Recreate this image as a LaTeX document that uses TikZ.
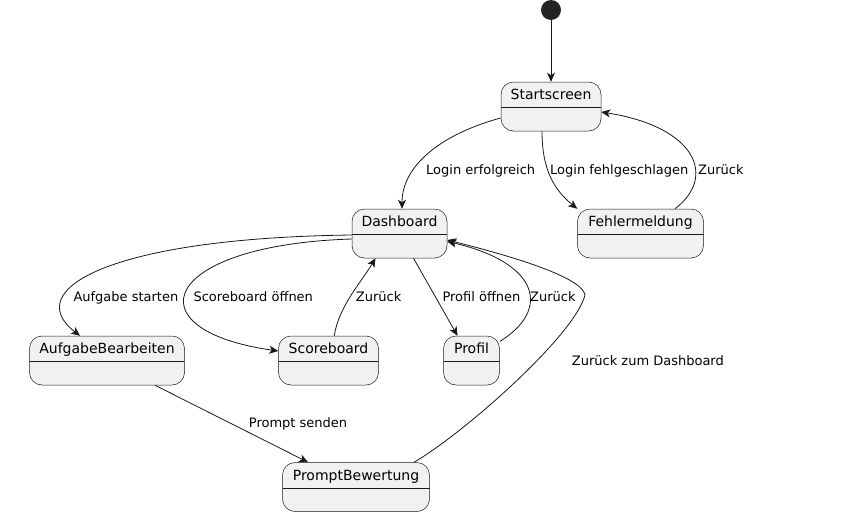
\documentclass[tikz,border=0pt]{standalone}
\usepackage{fontspec}
\setmainfont{DejaVu Sans}
\usetikzlibrary{arrows.meta}
\definecolor{linec}{HTML}{181818}
\definecolor{boxfill}{HTML}{F1F1F1}
\tikzset{
	state/.style={draw=linec, fill=boxfill, line width=0.5pt, rounded corners=12.5pt, inner sep=0pt,
		minimum height=49pt, text height=17.5pt, text depth=31.5pt, font=\fontsize{14}{16}\selectfont,
		path picture={\draw[linec, line width=0.5pt] ([yshift=-25.5pt]path picture bounding box.north west) -- ([yshift=-25.5pt]path picture bounding box.north east);}},
	lbl/.style={anchor=base west, inner sep=0pt, font=\fontsize{13}{15}\selectfont},
	trans/.style={->, draw=linec, line width=0.8pt}
}
\begin{document}
\begin{tikzpicture}[>={Stealth[length=9pt,width=8pt,inset=2.5pt]}, x=1pt, y=-1pt]
		\useasboundingbox (0,0) rectangle (857,520);
		\node[circle, fill=linec!95, minimum size=20pt, inner sep=0pt] (init) at (551,10) {};
		\node[state, minimum width=100pt] (start) at (551,106.5) {Startscreen};
		\node[state, minimum width=95pt] (dash) at (399.5,233.5) {Dashboard};
		\node[state, minimum width=126pt] (fehler) at (640.5,233.5) {Fehlermeldung};
		\node[state, minimum width=155pt] (aufgabe) at (107,360.5) {AufgabeBearbeiten};
		\node[state, minimum width=100pt] (score) at (328.5,360.5) {Scoreboard};
		\node[state, minimum width=56pt] (profil) at (471.5,360.5) {Profil};
		\node[state, minimum width=147pt] (prompt) at (356,487) {PromptBewertung};
		% transitions
		\draw[trans] (init) -- (start);
		\draw[trans] ([yshift=-11.5pt]start.west) .. controls +(-56,15) and +(0,-45) .. ([xshift=2.5pt]dash.north);
		\draw[trans] ([xshift=-9pt]start.south) .. controls +(0,40) and +(-22,-18) .. (fehler.north west);
		\draw[trans] ([xshift=34.5pt]fehler.north) .. controls +(42,-32) and +(95,15) .. ([yshift=-5.5pt]start.east);
		\draw[trans] ([yshift=-1.5pt]dash.west) .. controls +(-242,3) and +(-60,-46) .. ([xshift=-27pt]aufgabe.north);
		\draw[trans] ([yshift=-5.5pt]dash.west) .. controls +(-192,6) and +(-148,-21) .. ([yshift=9.5pt]score.west);
		\draw[trans] ([xshift=5.7pt]score.north) .. controls +(5,-30) and +(-15,25) .. ([xshift=-24pt]dash.south);
		\draw[trans] ([xshift=14pt]dash.south) -- ([xshift=-14pt]profil.north);
		\draw[trans] ([yshift=19pt]profil.east) .. controls +(51,-31.5) and +(93,21.5) .. ([yshift=-8pt]dash.east);
		\draw[trans] ([xshift=48pt]aufgabe.south) -- ([xshift=-48pt]prompt.north);
		\draw[trans] ([xshift=58pt]prompt.north) .. controls +(50,-29) and +(-10,40) .. (585,295)
			.. controls +(-3,-17) and +(72,18) .. ([yshift=-6.5pt]dash.east);
		% labels
		\node[lbl] (l1) at (426,174) {Login erfolgreich};
		\node[lbl] (l2) at (550,174) {Login fehlgeschlagen};
		\node[lbl] (l3) at (698,174) {Zurück};
		\node[lbl] (l4) at (73.3,301) {Aufgabe starten};
		\node[lbl] (l5) at (193.3,301) {Scoreboard öffnen};
		\node[lbl] (l6) at (355.7,301) {Zurück};
		\node[lbl] (l7) at (442.3,301) {Profil öffnen};
		\node[lbl] (l8) at (530,301) {Zurück};
		\node[lbl] (l9) at (248.7,427.7) {Prompt senden};
		\node[lbl] (l10) at (571.7,365) {Zurück zum Dashboard};
		\end{tikzpicture}
\end{document}
